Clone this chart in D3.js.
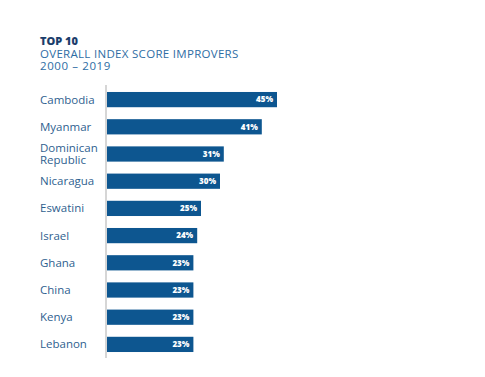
<!DOCTYPE html>
<html>
<head>
<meta charset="utf-8">
<script src="https://cdn.jsdelivr.net/npm/d3@7"></script>
<style>
  body { margin: 0; background: #fff; }
  text { font-family: "Open Sans", Lato, sans-serif; }
</style>
</head>
<body>
<div id="chart"></div>
<script>
const countries = ['Cambodia', 'Myanmar', 'Dominican\nRepublic', 'Nicaragua', 'Eswatini',
  'Israel', 'Ghana', 'China', 'Kenya', 'Lebanon'];
const improvement = [45, 41, 31, 30, 25, 24, 23, 23, 23, 23];
const titleLines = ['TOP 10', 'OVERALL INDEX SCORE IMPROVERS', '2000 \u2013 2019'];

const width = 485, height = 377;
const left = 106;

const svg = d3.select('#chart')
  .append('svg')
  .attr('width', width)
  .attr('height', height);

// title block
svg.append('text')
  .attr('x', 40).attr('y', 45)
  .attr('fill', '#1b3d6b')
  .style('font-size', '11px')
  .style('font-weight', 800)
  .text(titleLines[0]);
svg.append('text')
  .attr('x', 40).attr('y', 57.5)
  .attr('fill', '#2e6da4')
  .style('font-size', '11.5px')
  .style('letter-spacing', '0.3px')
  .text(titleLines[1]);
svg.append('text')
  .attr('x', 40).attr('y', 69.5)
  .attr('fill', '#2e6da4')
  .style('font-size', '11.5px')
  .style('letter-spacing', '0.6px')
  .text(titleLines[2]);

const x = d3.scaleLinear()
  .domain([0, 45])
  .range([left, 277]);

const y = d3.scaleBand()
  .domain(countries)
  .range([86, 358])
  .paddingInner(0.44)
  .paddingOuter(0.22);

const rows = svg.selectAll('.row')
  .data(countries.map((c, i) => ({ name: c, value: improvement[i] })))
  .join('g')
  .attr('class', 'row');

rows.append('rect')
  .attr('x', x(0) + 1)
  .attr('y', d => y(d.name))
  .attr('width', d => x(d.value) - x(0) - 1)
  .attr('height', y.bandwidth())
  .attr('fill', '#0d5690');

rows.append('text')
  .attr('x', d => x(d.value) - 4)
  .attr('y', d => y(d.name) + y.bandwidth() / 2)
  .attr('dy', '0.35em')
  .attr('text-anchor', 'end')
  .attr('fill', '#fff')
  .style('font-size', '8px')
  .style('font-weight', 800)
  .text(d => d.value + '%');

rows.append('text')
  .attr('x', 40)
  .attr('y', d => y(d.name) + y.bandwidth() / 2)
  .attr('fill', '#2f5f8f')
  .style('font-size', '11.5px')
  .each(function(d) {
    const lines = d.name.split('\n');
    const t = d3.select(this);
    lines.forEach((l, i) => {
      t.append('tspan')
        .attr('x', 40)
        .attr('dy', i === 0 ? (0.35 - (lines.length - 1) * 0.5) + 'em' : '1.0em')
        .text(l);
    });
  });

// vertical axis line
svg.append('line')
  .attr('x1', left).attr('x2', left)
  .attr('y1', 85).attr('y2', 358)
  .attr('stroke', '#c8c8c8')
  .attr('stroke-width', 1.5);
</script>
</body>
</html>
